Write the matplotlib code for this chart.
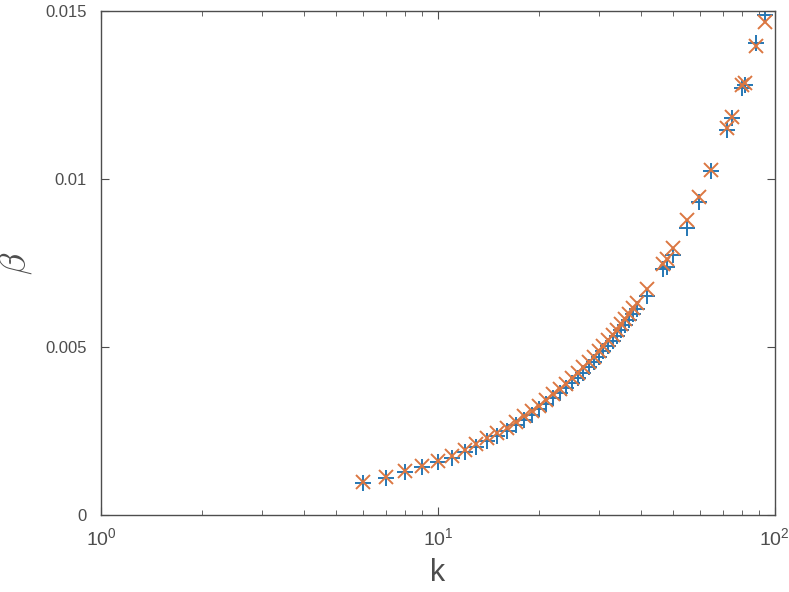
import matplotlib
matplotlib.use("Agg")
import matplotlib.pyplot as plt
import matplotlib.ticker as mticker

# k values (dense integer part, then the sparse tail)
k = [6, 7, 8, 9, 10, 11, 12, 13, 14, 15, 16, 17, 18, 19, 20,
     21, 22, 23, 24, 25, 26, 27, 28, 29, 30, 31, 32, 33, 34, 35,
     36, 37, 38, 39,
     41.7, 46.5, 47.8, 49.8, 54.8, 59.5, 64.6, 72.1, 74.5, 79.8,
     81.5, 87.9, 93.4]

# series 1 (blue +)
beta_plus = [0.00095, 0.00111, 0.00128, 0.00142, 0.00157, 0.00171, 0.00187,
             0.00204, 0.00221, 0.00236, 0.00251, 0.00268, 0.00284, 0.00299,
             0.00315, 0.00331, 0.00347, 0.00362, 0.00377, 0.00393, 0.00409,
             0.00424, 0.00440, 0.00455, 0.00471, 0.00487, 0.00502, 0.00518,
             0.00534, 0.00550, 0.00566, 0.00582, 0.00598, 0.00612,
             0.00652, 0.00732, 0.00738, 0.00774, 0.00854, 0.00932, 0.01024,
             0.01146, 0.01182, 0.01271, 0.01280, 0.01405, 0.01488]

# series 2 (orange x)
beta_x = [0.00097, 0.00113, 0.00130, 0.00145, 0.00160, 0.00176, 0.00193,
          0.00211, 0.00228, 0.00244, 0.00260, 0.00277, 0.00294, 0.00310,
          0.00326, 0.00343, 0.00359, 0.00375, 0.00391, 0.00407, 0.00424,
          0.00440, 0.00456, 0.00472, 0.00488, 0.00504, 0.00520, 0.00536,
          0.00552, 0.00568, 0.00584, 0.00600, 0.00616, 0.00632,
          0.00673, 0.00747, 0.00762, 0.00795, 0.00878, 0.00946, 0.01027,
          0.01152, 0.01184, 0.01280, 0.01286, 0.01396, 0.01467]

plt.rcParams['font.family'] = ['Liberation Sans', 'DejaVu Sans']
plt.rcParams['mathtext.fontset'] = 'cm'

fig = plt.figure(figsize=(7.89, 5.92), dpi=100)
ax = fig.add_axes([0.128, 0.130, 0.854, 0.851])

ax.plot(k, beta_plus, linestyle='none', marker='+', color='#2577B4',
        markersize=12, markeredgewidth=1.4)
ax.plot(k, beta_x, linestyle='none', marker='x', color='#DB7742',
        markersize=10, markeredgewidth=1.4)

ax.set_xscale('log')
ax.set_xlim(1, 100)
ax.set_ylim(0, 0.015)
ax.set_yticks([0, 0.005, 0.01, 0.015])
ax.set_yticklabels(['0', '0.005', '0.01', '0.015'])

for s in ax.spines.values():
    s.set_color('#4d4d4d')
    s.set_linewidth(1.0)
ax.tick_params(which='both', direction='in', top=True, right=True,
               colors='#4d4d4d', labelcolor='#4d4d4d', labelsize=12)
ax.tick_params(which='major', length=6)
ax.tick_params(which='minor', length=3.5)
ax.xaxis.set_minor_locator(mticker.LogLocator(base=10, subs=range(2, 10)))
ax.xaxis.set_minor_formatter(mticker.NullFormatter())
ax.tick_params(axis='x', pad=9, labelsize=14)
ax.tick_params(axis='y', pad=10)

ax.set_xlabel('k', fontsize=22, color='#4d4d4d', labelpad=6)
ax.set_ylabel(r'$\beta$', fontsize=26, color='#4d4d4d', labelpad=8)

fig.savefig('out.png', dpi=100)
